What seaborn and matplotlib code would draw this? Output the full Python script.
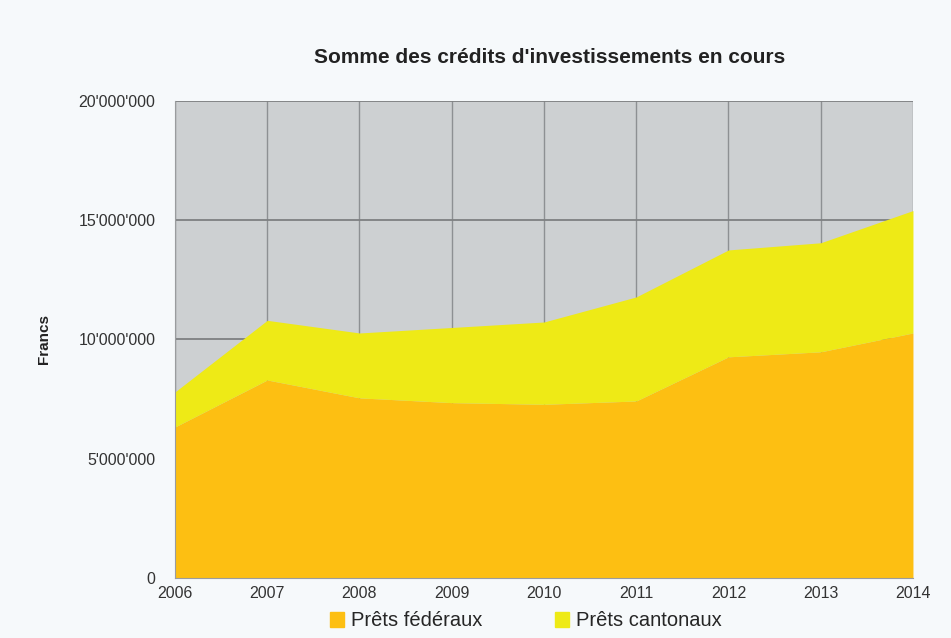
"""Somme des crédits d'investissements en cours - stacked area."""

import matplotlib.pyplot as plt
import matplotlib.ticker as mticker
import seaborn as sns
import pandas as pd

sns.set_style("white")
plt.rcParams['font.family'] = ['Liberation Sans', 'DejaVu Sans']

# Data
years = [2006, 2007, 2008, 2009, 2010, 2011, 2012, 2013, 2014]
prets_federaux = [6.33e6, 8.30e6, 7.55e6, 7.35e6, 7.28e6, 7.42e6, 9.27e6, 9.48e6, 10.27e6]
prets_cantonaux_total = [7.80e6, 10.80e6, 10.27e6, 10.50e6, 10.73e6, 11.78e6, 13.75e6, 14.05e6, 15.40e6]
prets_cantonaux = [t - f for t, f in zip(prets_cantonaux_total, prets_federaux)]
labels = ["Prêts fédéraux", "Prêts cantonaux"]
colors = ["#fdbf12", "#eeea16"]

df = pd.DataFrame({"year": years, labels[0]: prets_federaux, labels[1]: prets_cantonaux})

fig = plt.figure(figsize=(9.51, 6.38), dpi=100, facecolor="#f6f9fb")
ax = fig.add_axes([0.184, 0.094, 0.776, 0.748])
ax.set_facecolor("#cdd0d2")

ax.stackplot(df["year"], df[labels[0]], df[labels[1]], colors=colors,
             labels=labels, zorder=2, linewidth=0)

ax.set_xlim(years[0], years[-1])
ax.set_ylim(0, 20e6)
ax.set_xticks(years)
ax.yaxis.set_major_locator(mticker.MultipleLocator(5e6))
ax.yaxis.set_minor_locator(mticker.MultipleLocator(1e6))
ax.yaxis.set_major_formatter(mticker.FuncFormatter(
    lambda v, p: f"{int(v):,}".replace(",", "'")))

ax.grid(True, which="major", axis="y", color="#7e8082", linewidth=1.3, zorder=1)
ax.grid(True, which="major", axis="x", color="#8d9093", linewidth=1.0, zorder=1)
ax.set_axisbelow(True)
for s in ["top", "right"]:
    ax.spines[s].set_visible(False)
for s in ["left", "bottom"]:
    ax.spines[s].set_color("#9a9c9e")
ax.tick_params(axis="both", which="both", direction="out", color="#8a8c8e",
               labelsize=11.5, labelcolor="#333333")
ax.tick_params(axis="y", which="major", length=5, pad=9)
ax.tick_params(axis="y", which="minor", length=4)
ax.tick_params(axis="x", which="major", length=4, pad=2)

ax.set_ylabel("Francs", fontsize=11, fontweight="bold", labelpad=20, color="#222222")
fig.text(0.578, 0.91, "Somme des crédits d'investissements en cours",
         ha="center", va="center", fontsize=15, fontweight="bold", color="#222222")

handles = [plt.Rectangle((0, 0), 1, 1, color=c) for c in colors]
fig.legend(handles, labels, loc="center", bbox_to_anchor=(0.553, 0.027), ncol=2,
           frameon=False, fontsize=14.5, handlelength=0.7, handleheight=0.8,
           handletextpad=0.35, columnspacing=3.6)

fig.savefig("out.png", dpi=100, facecolor=fig.get_facecolor())
